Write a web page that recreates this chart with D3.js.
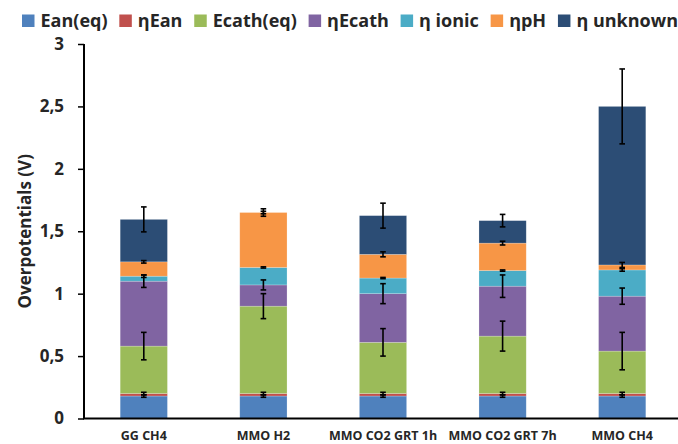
<!DOCTYPE html>
<html>
<head>
<meta charset="utf-8">
<script src="https://cdn.jsdelivr.net/npm/d3@7"></script>
<style>
  html, body { margin: 0; padding: 0; background: #fff; }
  svg { display: block; }
  text { font-family: "Open Sans", Lato, sans-serif; fill: #262626; }
</style>
</head>
<body>
<svg id="chart" width="678" height="444"></svg>
<script>
// Overpotential breakdown per electrode configuration (V)
const categories = ["GG CH4", "MMO H2", "MMO CO2 GRT 1h", "MMO CO2 GRT 7h", "MMO CH4"];
const seriesNames = ["Ean(eq)", "ηEan", "Ecath(eq)", "ηEcath", "η ionic", "ηpH", "η unknown"];
const seriesColors = ["#4F81BD", "#C0504D", "#9BBB59", "#8064A2", "#4BACC6", "#F79646", "#2C4D75"];

const eanEq    = [0.18, 0.18, 0.18, 0.18, 0.18];
const etaEan   = [0.02, 0.02, 0.02, 0.02, 0.02];
const ecathEq  = [0.38, 0.70, 0.41, 0.46, 0.34];
const etaEcath = [0.52, 0.17, 0.39, 0.40, 0.44];
const etaIonic = [0.04, 0.14, 0.125, 0.125, 0.21];
const etaPH    = [0.115, 0.44, 0.19, 0.22, 0.04];
const etaUnk   = [0.34, 0.00, 0.31, 0.18, 1.27];

// error (± V) drawn at the top of each segment
const errEanEq    = [0.01, 0.01, 0.01, 0.01, 0.01];
const errEtaEan   = [0.01, 0.01, 0.01, 0.01, 0.01];
const errEcathEq  = [0.11, 0.10, 0.11, 0.12, 0.15];
const errEtaEcath = [0.05, 0.04, 0.08, 0.09, 0.065];
const errIonic    = [0.01, 0.005, 0.005, 0.005, 0.01];
const errPH       = [0.01, 0.03, 0.02, 0.015, 0.02];
const errUnk      = [0.10, 0.01, 0.10, 0.05, 0.30];

const yTicks = [0, 0.5, 1, 1.5, 2, 2.5, 3];
const yTickLabels = ["0", "0,5", "1", "1,5", "2", "2,5", "3"];
const yTitle = "Overpotentials (V)";

const values = [eanEq, etaEan, ecathEq, etaEcath, etaIonic, etaPH, etaUnk];
const errors = [errEanEq, errEtaEan, errEcathEq, errEtaEcath, errIonic, errPH, errUnk];

const rows = categories.map((c, i) => {
  const r = { cat: c };
  seriesNames.forEach((s, k) => { r[s] = values[k][i]; });
  return r;
});

const svg = d3.select("#chart");
const margin = { left: 84, right: -4, top: 44, bottom: 25.5 };
const W = 678, H = 444;

const x = d3.scaleBand()
  .domain(categories)
  .range([margin.left, W - margin.right])
  .paddingInner(0.605)
  .paddingOuter(0.3025);

const y = d3.scaleLinear().domain([0, 3]).range([H - margin.bottom, margin.top]);

const stacked = d3.stack().keys(seriesNames)(rows);

// stacked bars
const layers = svg.append("g").selectAll("g")
  .data(stacked)
  .join("g")
  .attr("fill", (d, k) => seriesColors[k]);

layers.selectAll("rect")
  .data(d => d)
  .join("rect")
  .attr("x", d => x(d.data.cat))
  .attr("width", x.bandwidth())
  .attr("y", d => y(d[1]))
  .attr("height", d => Math.max(0, y(d[0]) - y(d[1])))
  .attr("stroke", "rgba(255,255,255,0.35)")
  .attr("stroke-width", 0.6);

// error bars
const capHalf = 2.8;
const eb = svg.append("g").attr("stroke", "#000").attr("stroke-width", 1.6);
stacked.forEach((layer, k) => {
  layer.forEach((d, i) => {
    const e = errors[k][i];
    const cx = x(d.data.cat) + x.bandwidth() / 2;
    const top = y(d[1] + e), bot = y(d[1] - e);
    eb.append("line").attr("x1", cx).attr("x2", cx).attr("y1", top).attr("y2", bot);
    eb.append("line").attr("x1", cx - capHalf).attr("x2", cx + capHalf).attr("y1", top).attr("y2", top);
    eb.append("line").attr("x1", cx - capHalf).attr("x2", cx + capHalf).attr("y1", bot).attr("y2", bot);
  });
});

// y axis
const yAxis = d3.axisLeft(y)
  .tickValues(yTicks)
  .tickFormat((d, i) => yTickLabels[i])
  .tickSize(6)
  .tickPadding(14);
const gy = svg.append("g").attr("transform", `translate(${margin.left},0)`).call(yAxis);
gy.select(".domain").attr("stroke", "#000").attr("stroke-width", 2).attr("d", `M0,${y(3)}V${y(0)}`);
gy.selectAll(".tick line").attr("stroke", "#000").attr("stroke-width", 1.5);
gy.selectAll(".tick text")
  .attr("font-family", "'Open Sans', sans-serif")
  .attr("font-size", 17).attr("font-weight", 700).attr("fill", "#262626");

// x axis
const xAxis = d3.axisBottom(x).tickSize(0).tickPadding(12.5);
const gx = svg.append("g").attr("transform", `translate(0,${y(0)})`).call(xAxis);
gx.select(".domain").attr("stroke", "#000").attr("stroke-width", 2.2).attr("d", `M${margin.left - 1},0H${W}`);
gx.selectAll(".tick text")
  .attr("font-family", "'Open Sans', sans-serif")
  .attr("font-size", 12.5).attr("font-weight", 700).attr("fill", "#262626");

// y title
svg.append("text")
  .attr("transform", `translate(31,${(y(0) + y(3)) / 2}) rotate(-90)`)
  .attr("text-anchor", "middle")
  .attr("font-size", 17).attr("font-weight", 700)
  .text(yTitle);

// legend
const legend = svg.append("g").attr("transform", "translate(22,27)");
let lx = 0;
seriesNames.forEach((s, k) => {
  const g = legend.append("g").attr("transform", `translate(${lx},0)`);
  g.append("rect").attr("x", 0).attr("y", -12.5).attr("width", 12.5).attr("height", 12.5).attr("fill", seriesColors[k]);
  const t = g.append("text").attr("x", 18.5).attr("y", 0)
    .attr("font-size", 18).attr("font-weight", 700)
    .text(s);
  lx += 18.5 + t.node().getComputedTextLength() + 11.8;
});
</script>
</body>
</html>
